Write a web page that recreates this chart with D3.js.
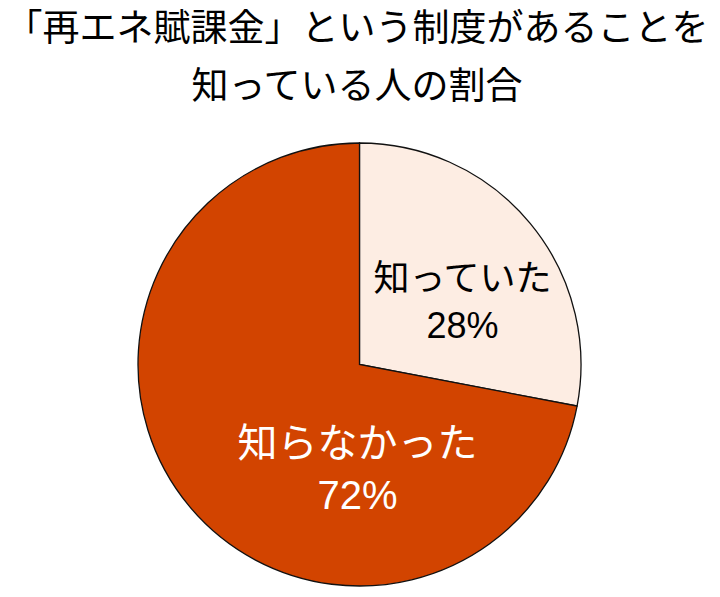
<!DOCTYPE html>
<html><head><meta charset="utf-8">
<script src="https://cdn.jsdelivr.net/npm/d3@7"></script>
<style>body{margin:0;background:#fff}svg{display:block}</style>
</head><body>
<svg id="c" width="720" height="597"></svg>
<script>
const categories = ["知っていた", "知らなかった"];
const values = [28, 72];
const titleLines = ["「再エネ賦課金」という制度があることを", "知っている人の割合"];

const colors = ["#FDEDE3", "#D24400"];
const textColors = ["#000", "#fff"];
const W = 720, H = 597, cx = 359.5, cy = 364.5, R = 221.5;
const font = "'Liberation Sans', Arial, 'Noto Sans CJK JP', sans-serif";

const svg = d3.select("#c");
svg.selectAll("text.title").data(titleLines).enter().append("text")
  .attr("class", "title")
  .attr("x", 357).attr("y", (d, i) => 41 + i * 58)
  .attr("text-anchor", "middle")
  .attr("font-family", font).attr("font-size", 37)
  .attr("fill", "#000").text(d => d);

const data = categories.map((c, i) => ({ c, v: values[i], i }));
const pie = d3.pie().value(d => d.v).sort(null);
const arc = d3.arc().innerRadius(0).outerRadius(R);
const g = svg.append("g").attr("transform", `translate(${cx},${cy})`);
const arcs = pie(data);
g.selectAll("path").data(arcs).enter().append("path")
  .attr("d", arc).attr("fill", d => colors[d.data.i])
  .attr("stroke", "#111").attr("stroke-width", 1.3);

// label placement (relative to centre, in pixels)
const labelPos = [[103, -74, 36, 47], [-2, 92, 40, 52]];
const lg = g.selectAll("g.lab").data(arcs).enter().append("g")
  .attr("class", "lab")
  .attr("transform", d => `translate(${labelPos[d.data.i][0]},${labelPos[d.data.i][1]})`);
lg.append("text").attr("text-anchor", "middle")
  .attr("font-family", font).attr("font-size", d => labelPos[d.data.i][2])
  .attr("fill", d => textColors[d.data.i])
  .attr("y", 0).text(d => d.data.c);
lg.append("text").attr("text-anchor", "middle")
  .attr("font-family", font).attr("font-size", d => labelPos[d.data.i][2])
  .attr("fill", d => textColors[d.data.i])
  .attr("y", d => labelPos[d.data.i][3]).text(d => d.data.v + "%");
</script>
</body></html>
